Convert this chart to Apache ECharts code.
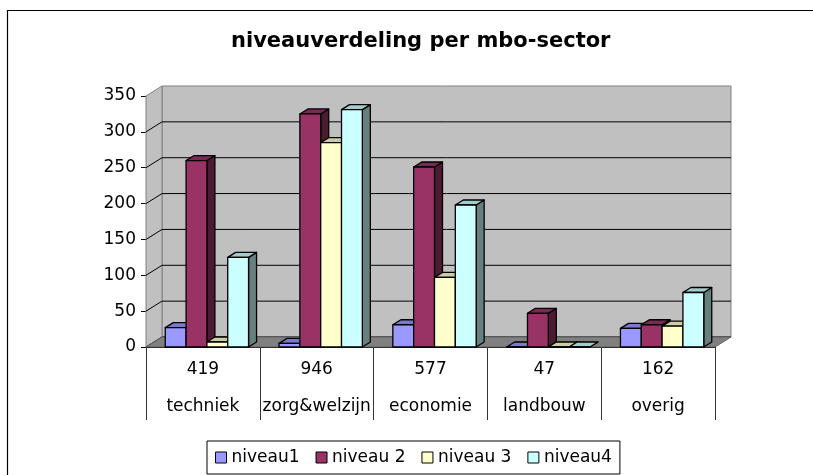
<!DOCTYPE html>
<html>
<head>
<meta charset="utf-8">
<script src="https://cdn.jsdelivr.net/npm/echarts@6/dist/echarts.min.js"></script>
<style>
  html, body { margin: 0; padding: 0; background: #fff; }
  #chart { width: 813px; height: 475px; }
</style>
</head>
<body>
<div id="chart"></div>
<script>
  // gegevens uit de grafiek
  var categories = ['techniek', 'zorg&welzijn', 'economie', 'landbouw', 'overig'];
  var totals = [419, 946, 577, 47, 162];
  var niveau1 = [27, 5, 31, 0, 26];
  var niveau2 = [260, 325, 251, 47, 31];
  var niveau3 = [7, 285, 97, 0, 29];
  var niveau4 = [125, 331, 198, 0, 76];
  var yTicks = [0, 50, 100, 150, 200, 250, 300, 350];

  var seriesNames = ['niveau1', 'niveau 2', 'niveau 3', 'niveau4'];
  var seriesData = [niveau1, niveau2, niveau3, niveau4];
  // voorkant, bovenkant, zijkant
  var faceColors = [
    ['#9999FF', '#7a7acc', '#4d4d80'],
    ['#993366', '#7a2952', '#4d1a33'],
    ['#FFFFCC', '#ccccA3', '#808066'],
    ['#CCFFFF', '#a3cccc', '#668080']
  ];

  var FONT = 'DejaVu Sans';
  var WALL_DX = 16, WALL_DY = -10;   // diepte van de wanden
  var BAR_DX = 8, BAR_DY = -5;       // diepte van de staven

  var chart = echarts.init(document.getElementById('chart'));

  /* wanden, vloer en rasterlijnen */
  function renderWalls(params, api) {
    var cs = params.coordSys;
    var x = cs.x, y = cs.y, w = cs.width, h = cs.height;
    var children = [];
    // achterwand
    children.push({
      type: 'rect',
      shape: { x: x + WALL_DX, y: y + WALL_DY, width: w, height: h },
      style: { fill: '#c0c0c0', stroke: '#808080', lineWidth: 1 }
    });
    // zijwand links
    children.push({
      type: 'polygon',
      shape: { points: [[x, y], [x + WALL_DX, y + WALL_DY], [x + WALL_DX, y + h + WALL_DY], [x, y + h]] },
      style: { fill: '#c0c0c0', stroke: '#808080', lineWidth: 1 }
    });
    // rasterlijnen
    yTicks.forEach(function (v) {
      if (v === yTicks[yTicks.length - 1]) return;
      var yy = api.coord([0, v])[1];
      children.push({
        type: 'polyline',
        shape: { points: [[x, yy], [x + WALL_DX, yy + WALL_DY], [x + w + WALL_DX, yy + WALL_DY]] },
        style: { fill: null, stroke: '#000', lineWidth: 1 }
      });
    });
    // vloer
    children.push({
      type: 'polygon',
      shape: { points: [[x, y + h], [x + WALL_DX, y + h + WALL_DY], [x + w + WALL_DX, y + h + WALL_DY], [x + w, y + h]] },
      style: { fill: '#808080', stroke: '#606060', lineWidth: 1 }
    });
    return { type: 'group', children: children };
  }

  /* 3D-staaf per niveau */
  function makeBarRenderer(idx) {
    return function (params, api) {
      var cat = api.value(0);
      var v = api.value(1);
      var base = api.coord([cat, 0]);
      var top = api.coord([cat, v]);
      var band = api.size([1, 0])[0];
      var bw = band * 0.183;
      var x0 = base[0] - 2 * bw + 4 + idx * bw;
      var yt = top[1], yb = base[1];
      var c = faceColors[idx];
      var st = { stroke: '#000', lineWidth: 1.3, lineJoin: 'round' };
      return {
        type: 'group',
        children: [
          {
            type: 'polygon',
            shape: { points: [[x0 + bw, yt], [x0 + bw + BAR_DX, yt + BAR_DY], [x0 + bw + BAR_DX, yb + BAR_DY], [x0 + bw, yb]] },
            style: Object.assign({ fill: c[2] }, st)
          },
          {
            type: 'polygon',
            shape: { points: [[x0, yt], [x0 + BAR_DX, yt + BAR_DY], [x0 + bw + BAR_DX, yt + BAR_DY], [x0 + bw, yt]] },
            style: Object.assign({ fill: c[1] }, st)
          },
          {
            type: 'rect',
            shape: { x: x0, y: yt, width: bw, height: yb - yt },
            style: Object.assign({ fill: c[0] }, st)
          }
        ]
      };
    };
  }

  var series = [{
    name: 'wanden',
    type: 'custom',
    renderItem: renderWalls,
    data: [[0, 0]],
    z: 1,
    silent: true
  }];
  seriesNames.forEach(function (name, i) {
    series.push({
      name: name,
      type: 'custom',
      renderItem: makeBarRenderer(i),
      itemStyle: { color: faceColors[i][0], borderColor: '#000', borderWidth: 1 },
      data: seriesData[i].map(function (v, k) { return [k, v]; }),
      z: 3 + i
    });
  });

  var option = {
    animation: false,
    backgroundColor: '#fff',
    title: {
      text: 'niveauverdeling per mbo-sector',
      left: 226,
      top: 26,
      textStyle: { fontFamily: FONT, fontSize: 21, fontWeight: 'bold', color: '#000' }
    },
    legend: {
      data: seriesNames,
      left: 207,
      top: 441,
      padding: [8, 8],
      itemGap: 16,
      itemWidth: 11,
      itemHeight: 11,
      icon: 'rect',
      borderColor: '#000',
      borderWidth: 1,
      backgroundColor: '#fff',
      itemStyle: { borderColor: '#000', borderWidth: 1 },
      textStyle: { fontFamily: FONT, fontSize: 17, color: '#000' }
    },
    grid: { left: 146, right: 98, top: 96, bottom: 128 },
    xAxis: {
      type: 'category',
      data: categories,
      axisLine: { lineStyle: { color: '#000', width: 1 } },
      axisTick: { show: true, interval: 0, length: 73, lineStyle: { color: '#333' } },
      axisLabel: {
        interval: 0,
        margin: 4,
        lineHeight: 37,
        fontFamily: FONT,
        fontSize: 17,
        color: '#000',
        formatter: function (val, idx) { return totals[idx] + '\n' + val; }
      }
    },
    yAxis: {
      type: 'value',
      min: 0,
      max: 350,
      interval: 50,
      axisLine: { show: true, lineStyle: { color: '#000', width: 1 } },
      axisTick: { show: true, length: 5, lineStyle: { color: '#000' } },
      splitLine: { show: false },
      axisLabel: { margin: 10, fontFamily: FONT, fontSize: 17, color: '#000' }
    },
    graphic: [{
      type: 'rect',
      shape: { x: 7.5, y: 10.5, width: 900, height: 600 },
      style: { fill: null, stroke: '#000', lineWidth: 1.2 },
      silent: true,
      z: 0
    }],
    series: series
  };

  chart.setOption(option);
</script>
</body>
</html>
